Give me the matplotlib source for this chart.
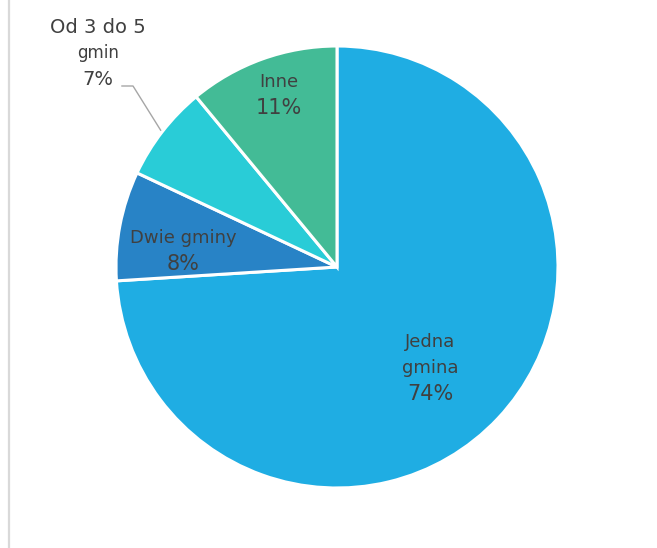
import numpy as np
import matplotlib
matplotlib.use('Agg')
from matplotlib import pyplot as plt

# slice data, clockwise from the top
names = ['Jedna\ngmina', 'Dwie gminy', 'Od 3 do 5\ngmin', 'Inne']
shares = [74, 8, 7, 11]
colors = ['#1FADE3', '#2883C6', '#29CCD7', '#43BB96']

plt.rcParams['font.family'] = ['DejaVu Sans']
txt_color = '#404040'

W, H = 657, 548
fig = plt.figure(figsize=(W / 100, H / 100), dpi=100)

# pie centre (337, 267) px, radius 221 px
cx, cy, r = 337, 267, 221
ax = fig.add_axes([(cx - r) / W, (H - cy - r) / H, 2 * r / W, 2 * r / H])

wedges, _ = ax.pie(shares, colors=colors, startangle=90, counterclock=False,
                   wedgeprops=dict(edgecolor='white', linewidth=2.2))
ax.set_xlim(-1, 1)
ax.set_ylim(-1, 1)
ax.set_aspect('equal')
ax.axis('off')

step = 26 / r  # line step in data units

# label placement: distance from centre and angle nudge per slice
dist = [0.62, 0.70, 1.45, 0.82]
nudge = [-4.1, 5, -4, -1.2]
for w, name, s, d, dn in zip(wedges, names, shares, dist, nudge):
    ang = np.deg2rad((w.theta1 + w.theta2) / 2 + dn)
    x, y = d * np.cos(ang), d * np.sin(ang)
    lines = name.split('\n') + ['%d%%' % s]
    sizes = [13] * (len(lines) - 1) + [15]
    if name.startswith('Od'):
        sizes = [14, 12, 14]
        # leader line from the slice edge to the label
        a0 = np.deg2rad((w.theta1 + w.theta2) / 2)
        ax.plot([1.01 * np.cos(a0), -0.923, -0.973],
                [1.01 * np.sin(a0), 0.819, 0.819],
                color='#A6A6A6', lw=1.0, clip_on=False)
    y0 = y + step * (len(lines) - 1) / 2
    for i, (t, fs) in enumerate(zip(lines, sizes)):
        ax.text(x, y0 - i * step, t, ha='center', va='center', fontsize=fs,
                color=txt_color)

# thin grey frame line on the left
fig.add_artist(plt.Line2D([8.5 / W, 8.5 / W], [0, 1], color='#D9D9D9', lw=1.6))

fig.savefig('out.png', dpi=100)
